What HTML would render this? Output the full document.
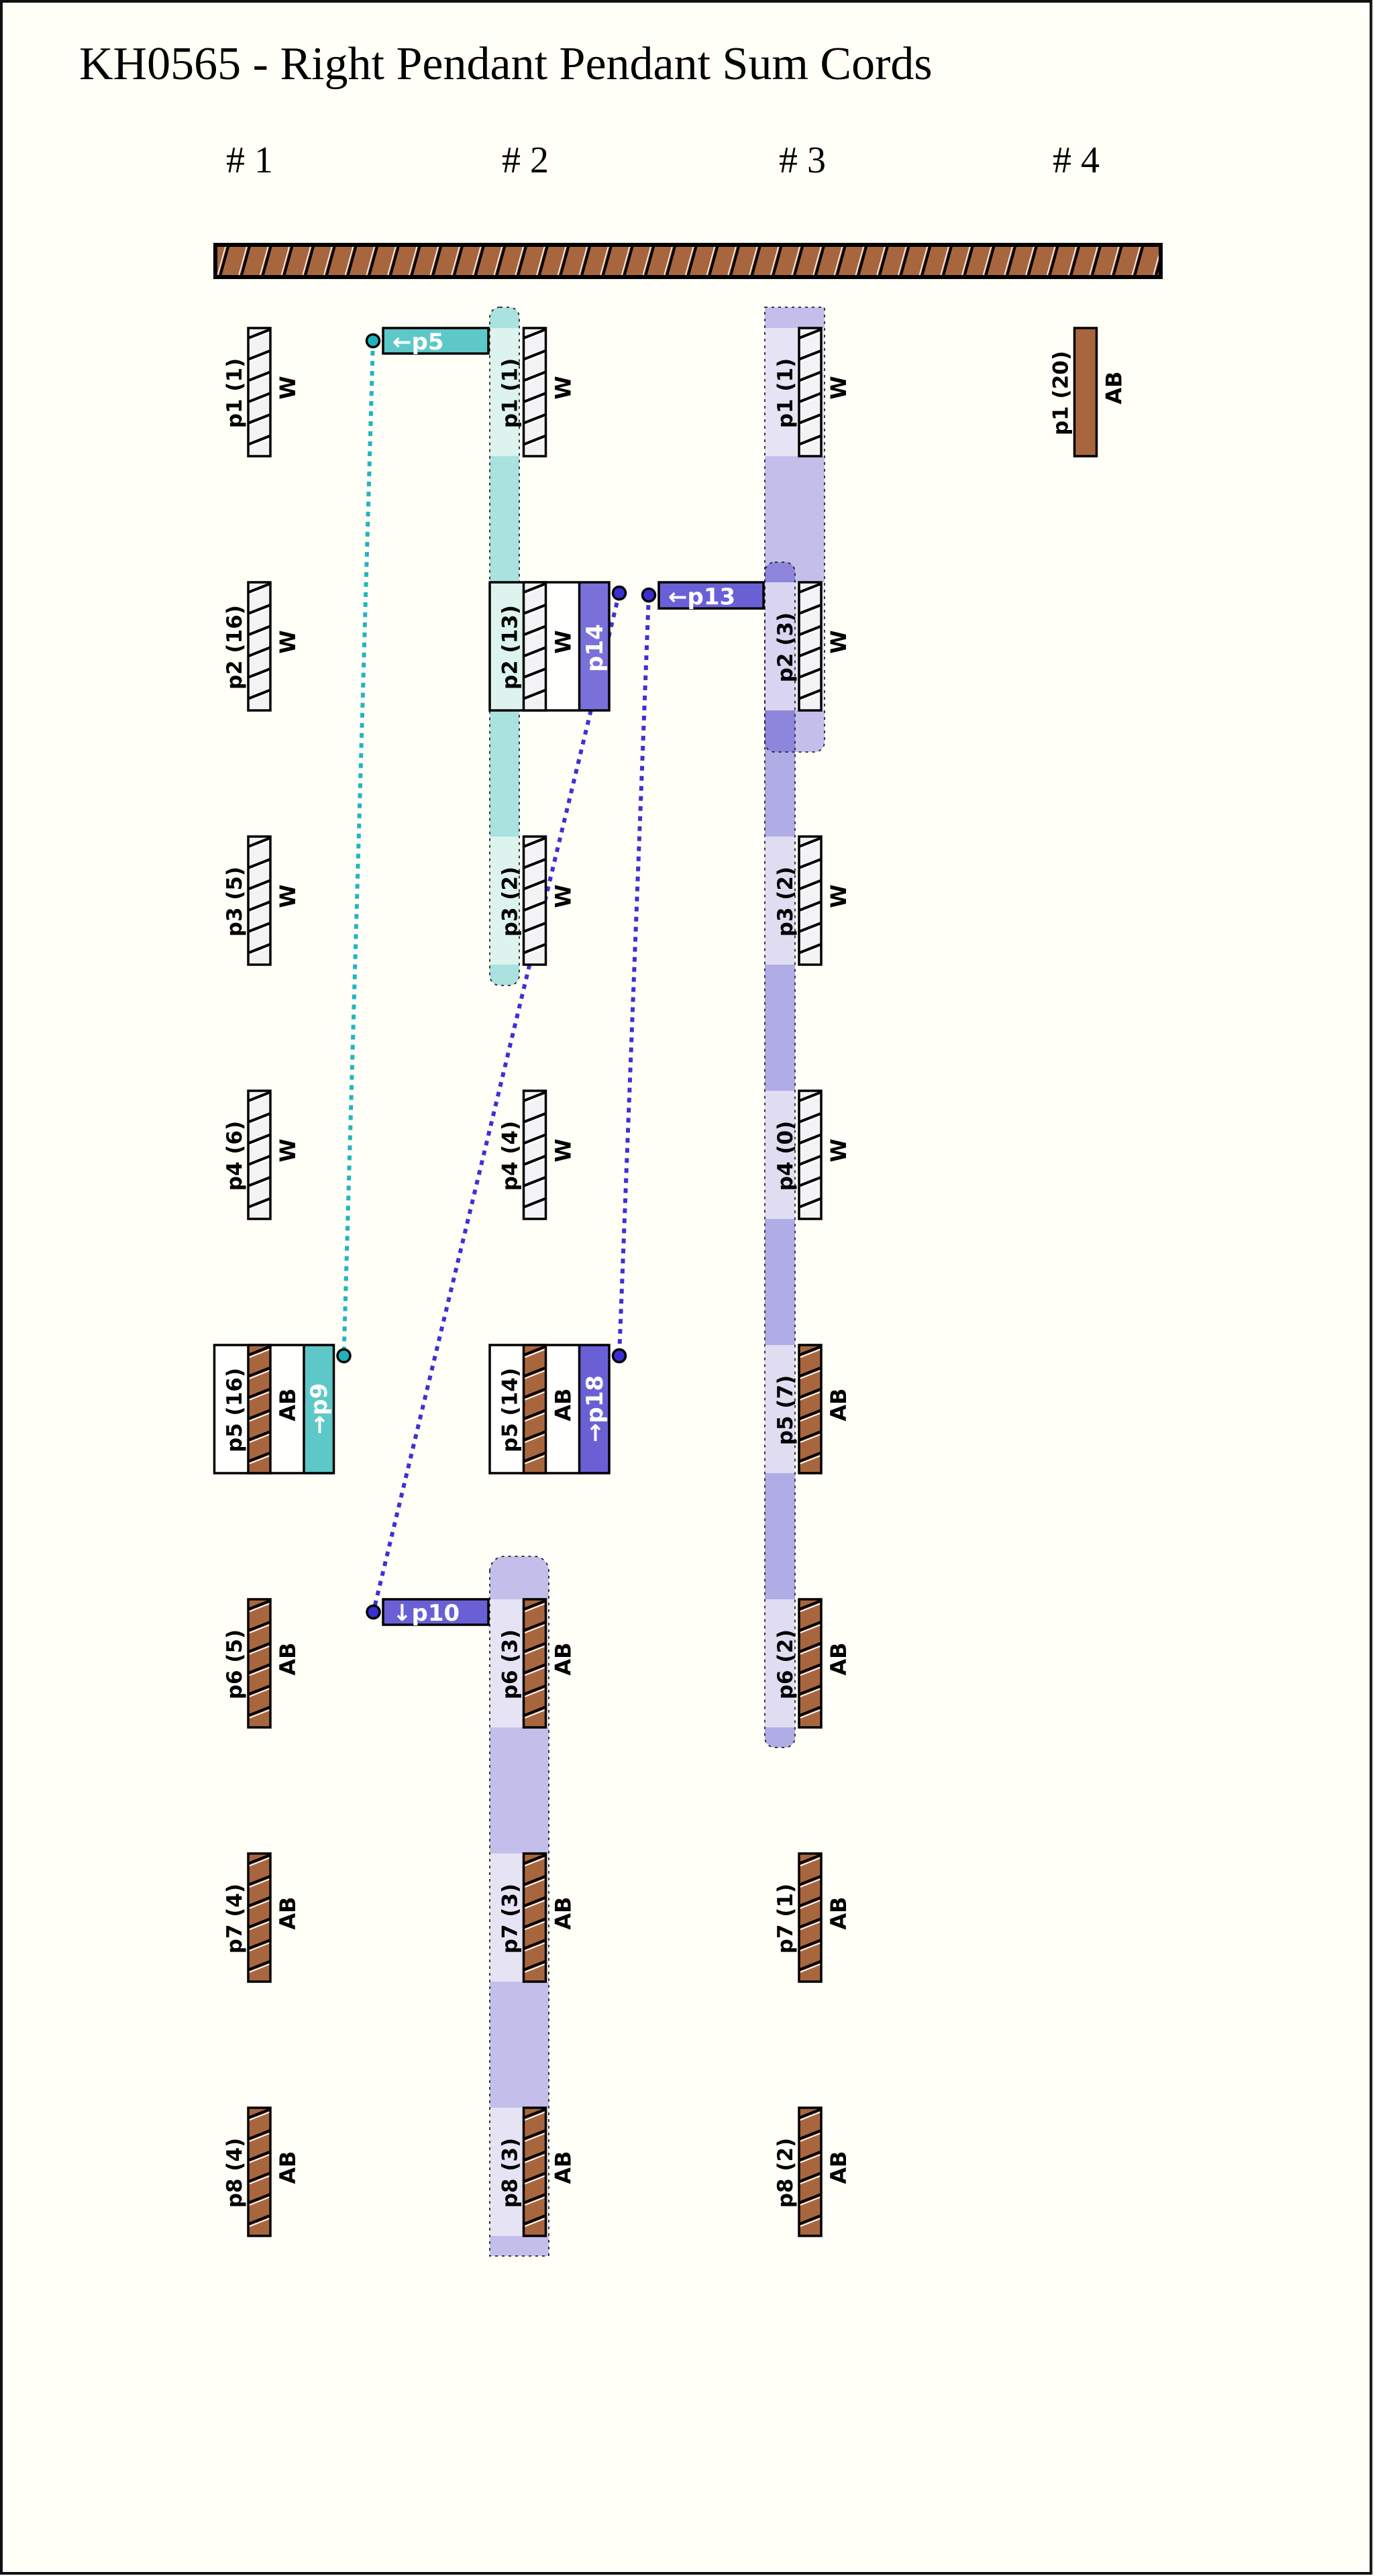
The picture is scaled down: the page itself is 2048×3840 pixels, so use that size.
<!DOCTYPE html>
<html>
<head>
<meta charset="utf-8">
<style>
  html,body{margin:0;padding:0;background:#fffef7;}
  svg{display:block;}
  .t{font-family:"Liberation Serif",serif;font-size:70px;fill:#000;}
  .h{font-family:"Liberation Serif",serif;font-size:56px;fill:#000;}
  .l{font-family:"DejaVu Sans","Liberation Sans",sans-serif;font-weight:bold;font-size:31px;text-anchor:middle;fill:#000;}
  .w{font-family:"DejaVu Sans","Liberation Sans",sans-serif;font-weight:bold;font-size:32px;text-anchor:middle;fill:#000;}
  .g{font-family:"DejaVu Sans","Liberation Sans",sans-serif;font-weight:bold;font-size:34px;fill:#fff;}
  .gm{font-family:"DejaVu Sans","Liberation Sans",sans-serif;font-weight:bold;font-size:34px;fill:#fff;text-anchor:middle;}
</style>
</head>
<body>
<svg width="2048" height="3840" viewBox="0 0 2048 3840" xmlns="http://www.w3.org/2000/svg" xmlns:xlink="http://www.w3.org/1999/xlink">
<defs>
  <pattern id="bh" x="321" y="362" width="31.7" height="54" patternUnits="userSpaceOnUse">
    <line x1="1" y1="57" x2="17.5" y2="-3" stroke="#fff" stroke-width="1.6"/>
    <line x1="5" y1="57" x2="21.5" y2="-3" stroke="#000" stroke-width="4"/>
  </pattern>
  <clipPath id="cc"><rect x="0" y="0" width="33" height="191"/></clipPath>
  <g id="cw">
    <rect x="0" y="0" width="33" height="191" fill="#f3f3f6"/>
    <g clip-path="url(#cc)">
      <path d="M0 15L33 2M0 46.7L33 33.7M0 78.4L33 65.4M0 110.1L33 97.1M0 141.8L33 128.8M0 173.5L33 160.5" stroke="#000" stroke-width="4" fill="none"/>
      <path d="M0 19L33 6M0 50.7L33 37.7M0 82.4L33 69.4M0 114.1L33 101.1M0 145.8L33 132.8M0 177.5L33 164.5" stroke="#fff" stroke-width="1.8" fill="none"/>
    </g>
    <rect x="0" y="0" width="33" height="191" fill="none" stroke="#000" stroke-width="3.5"/>
  </g>
  <g id="cb">
    <rect x="0" y="0" width="33" height="191" fill="#a8663f"/>
    <g clip-path="url(#cc)">
      <path d="M0 15L33 2M0 46.7L33 33.7M0 78.4L33 65.4M0 110.1L33 97.1M0 141.8L33 128.8M0 173.5L33 160.5" stroke="#000" stroke-width="4" fill="none"/>
      <path d="M0 19L33 6M0 50.7L33 37.7M0 82.4L33 69.4M0 114.1L33 101.1M0 145.8L33 132.8M0 177.5L33 164.5" stroke="#fff" stroke-width="1.8" fill="none"/>
    </g>
    <rect x="0" y="0" width="33" height="191" fill="none" stroke="#000" stroke-width="3.5"/>
  </g>
</defs>

<!-- background & frame -->
<rect x="0" y="0" width="2048" height="3840" fill="#fffef7"/>
<rect x="2" y="2" width="2041.5" height="3834" fill="none" stroke="#111" stroke-width="4"/>

<!-- title -->
<text class="t" x="118" y="118">KH0565 - Right Pendant Pendant Sum Cords</text>

<!-- headers -->
<text class="h" x="337" y="257"># 1</text>
<text class="h" x="748" y="257"># 2</text>
<text class="h" x="1161" y="257"># 3</text>
<text class="h" x="1569" y="257"># 4</text>

<!-- main bar -->
<rect x="321" y="365" width="1409" height="48" fill="#a8663f"/>
<rect x="321" y="365" width="1409" height="48" fill="url(#bh)"/>
<rect x="321" y="365" width="1409" height="48" fill="none" stroke="#000" stroke-width="6"/>

<!-- ===== bands ===== -->
<rect x="730" y="458" width="44" height="1011" rx="15" ry="15" fill="#a9e2de"/>
<rect x="730" y="489" width="44" height="191" fill="#dcf3ee"/>
<rect x="730" y="1247" width="44" height="191" fill="#dcf3ee"/>
<rect x="730" y="458" width="44" height="1011" rx="15" ry="15" fill="none" stroke="#222" stroke-width="1.8" stroke-dasharray="4 6"/>

<path d="M730 2342 A22 22 0 0 1 752 2320 H796 A22 22 0 0 1 818 2342 V3363 H730 Z" fill="#c4bfea"/>
<rect x="730" y="2384" width="88" height="191" fill="#e6e4f4"/>
<rect x="730" y="2763" width="88" height="191" fill="#e6e4f4"/>
<rect x="730" y="3142" width="88" height="191" fill="#e6e4f4"/>
<path d="M730 2342 A22 22 0 0 1 752 2320 H796 A22 22 0 0 1 818 2342 V3363 H730 Z" fill="none" stroke="#222" stroke-width="1.8" stroke-dasharray="4 6"/>

<path d="M1140 458 H1229 V1106 A15 15 0 0 1 1214 1121 H1155 A15 15 0 0 1 1140 1106 Z" fill="#c4bfea"/>
<rect x="1140" y="838" width="45" height="1767" rx="15" ry="15" fill="#b0ace6"/>
<path d="M1140 853 A15 15 0 0 1 1155 838 H1170 A15 15 0 0 1 1185 853 V1121 H1155 A15 15 0 0 1 1140 1106 Z" fill="#8e86dc"/>
<rect x="1140" y="489" width="89" height="191" fill="#e6e4f4"/>
<rect x="1140" y="868" width="45" height="191" fill="#d9d5f1"/>
<rect x="1185" y="868" width="44" height="191" fill="#e6e4f4"/>
<rect x="1140" y="1247" width="45" height="191" fill="#e0ddf2"/>
<rect x="1140" y="1626" width="45" height="191" fill="#e0ddf2"/>
<rect x="1140" y="2005" width="45" height="191" fill="#e0ddf2"/>
<rect x="1140" y="2384" width="45" height="191" fill="#e0ddf2"/>
<path d="M1140 458 H1229 V1106 A15 15 0 0 1 1214 1121 H1155 A15 15 0 0 1 1140 1106 Z" fill="none" stroke="#222" stroke-width="1.8" stroke-dasharray="4 6"/>
<rect x="1140" y="838" width="45" height="1767" rx="15" ry="15" fill="none" stroke="#222" stroke-width="1.8" stroke-dasharray="4 6"/>

<!-- ===== dotted connectors ===== -->
<line x1="556" y1="508" x2="512.5" y2="2021" stroke="#22b4c0" stroke-width="6" stroke-dasharray="7 8"/>
<line x1="923" y1="884" x2="556.5" y2="2403" stroke="#3e30d4" stroke-width="6" stroke-dasharray="7 8"/>
<line x1="967" y1="887" x2="923" y2="2021" stroke="#3e30d4" stroke-width="6" stroke-dasharray="7 8"/>

<!-- ===== boxes ===== -->
<rect x="730" y="868" width="178" height="191" fill="#fffffd"/>
<rect x="730" y="868" width="50.5" height="191" fill="#dcf3ee"/>
<rect x="863.5" y="868" width="44.5" height="191" fill="#6a60d6" fill-opacity="0.9"/>
<line x1="863.5" y1="868" x2="863.5" y2="1059" stroke="#000" stroke-width="3.5"/>
<rect x="730" y="868" width="178" height="191" fill="none" stroke="#000" stroke-width="3.5"/>

<rect x="319.5" y="2005" width="178" height="191" fill="#fffffd"/>
<rect x="453" y="2005" width="44.5" height="191" fill="#5ec8c8"/>
<line x1="453" y1="2005" x2="453" y2="2196" stroke="#000" stroke-width="3.5"/>
<rect x="319.5" y="2005" width="178" height="191" fill="none" stroke="#000" stroke-width="3.5"/>

<rect x="730" y="2005" width="178" height="191" fill="#fffffd"/>
<rect x="863.5" y="2005" width="44.5" height="191" fill="#6a60d6"/>
<line x1="863.5" y1="2005" x2="863.5" y2="2196" stroke="#000" stroke-width="3.5"/>
<rect x="730" y="2005" width="178" height="191" fill="none" stroke="#000" stroke-width="3.5"/>

<!-- horizontal tags -->
<rect x="571" y="489" width="157" height="38" fill="#5ec8c8" stroke="#000" stroke-width="3.5"/>
<text class="g" x="585" y="521">←p5</text>
<rect x="982" y="868" width="156" height="39" fill="#6a60d6" stroke="#000" stroke-width="3.5"/>
<text class="g" x="996" y="901">←p13</text>
<rect x="571" y="2384" width="157" height="38" fill="#6a60d6" stroke="#000" stroke-width="3.5"/>
<text class="g" x="585" y="2416">↓p10</text>

<!-- ===== cords ===== -->
<use xlink:href="#cw" href="#cw" x="370" y="489"/>
<use xlink:href="#cw" href="#cw" x="370" y="868"/>
<use xlink:href="#cw" href="#cw" x="370" y="1247"/>
<use xlink:href="#cw" href="#cw" x="370" y="1626"/>
<use xlink:href="#cb" href="#cb" x="370" y="2005"/>
<use xlink:href="#cb" href="#cb" x="370" y="2384"/>
<use xlink:href="#cb" href="#cb" x="370" y="2763"/>
<use xlink:href="#cb" href="#cb" x="370" y="3142"/>

<use xlink:href="#cw" href="#cw" x="780.5" y="489"/>
<use xlink:href="#cw" href="#cw" x="780.5" y="868"/>
<use xlink:href="#cw" href="#cw" x="780.5" y="1247"/>
<use xlink:href="#cw" href="#cw" x="780.5" y="1626"/>
<use xlink:href="#cb" href="#cb" x="780.5" y="2005"/>
<use xlink:href="#cb" href="#cb" x="780.5" y="2384"/>
<use xlink:href="#cb" href="#cb" x="780.5" y="2763"/>
<use xlink:href="#cb" href="#cb" x="780.5" y="3142"/>

<use xlink:href="#cw" href="#cw" x="1191" y="489"/>
<use xlink:href="#cw" href="#cw" x="1191" y="868"/>
<use xlink:href="#cw" href="#cw" x="1191" y="1247"/>
<use xlink:href="#cw" href="#cw" x="1191" y="1626"/>
<use xlink:href="#cb" href="#cb" x="1191" y="2005"/>
<use xlink:href="#cb" href="#cb" x="1191" y="2384"/>
<use xlink:href="#cb" href="#cb" x="1191" y="2763"/>
<use xlink:href="#cb" href="#cb" x="1191" y="3142"/>

<rect x="1601.5" y="489" width="33" height="191" fill="#a8663f" stroke="#000" stroke-width="3.5"/>

<!-- ===== labels col1 ===== -->
<text class="l" transform="translate(360 586) rotate(-90)">p1 (1)</text>
<text class="w" transform="translate(440 578) rotate(-90)">W</text>
<text class="l" transform="translate(360 965) rotate(-90)">p2 (16)</text>
<text class="w" transform="translate(440 957) rotate(-90)">W</text>
<text class="l" transform="translate(360 1344) rotate(-90)">p3 (5)</text>
<text class="w" transform="translate(440 1336) rotate(-90)">W</text>
<text class="l" transform="translate(360 1723) rotate(-90)">p4 (6)</text>
<text class="w" transform="translate(440 1715) rotate(-90)">W</text>
<text class="l" transform="translate(360 2102) rotate(-90)">p5 (16)</text>
<text class="w" transform="translate(440 2094) rotate(-90)">AB</text>
<text class="l" transform="translate(360 2481) rotate(-90)">p6 (5)</text>
<text class="w" transform="translate(440 2473) rotate(-90)">AB</text>
<text class="l" transform="translate(360 2860) rotate(-90)">p7 (4)</text>
<text class="w" transform="translate(440 2852) rotate(-90)">AB</text>
<text class="l" transform="translate(360 3239) rotate(-90)">p8 (4)</text>
<text class="w" transform="translate(440 3231) rotate(-90)">AB</text>

<!-- ===== labels col2 ===== -->
<text class="l" transform="translate(770.5 586) rotate(-90)">p1 (1)</text>
<text class="w" transform="translate(850.5 578) rotate(-90)">W</text>
<text class="l" transform="translate(770.5 965) rotate(-90)">p2 (13)</text>
<text class="w" transform="translate(850.5 957) rotate(-90)">W</text>
<text class="l" transform="translate(770.5 1344) rotate(-90)">p3 (2)</text>
<text class="w" transform="translate(850.5 1336) rotate(-90)">W</text>
<text class="l" transform="translate(770.5 1723) rotate(-90)">p4 (4)</text>
<text class="w" transform="translate(850.5 1715) rotate(-90)">W</text>
<text class="l" transform="translate(770.5 2102) rotate(-90)">p5 (14)</text>
<text class="w" transform="translate(850.5 2094) rotate(-90)">AB</text>
<text class="l" transform="translate(770.5 2481) rotate(-90)">p6 (3)</text>
<text class="w" transform="translate(850.5 2473) rotate(-90)">AB</text>
<text class="l" transform="translate(770.5 2860) rotate(-90)">p7 (3)</text>
<text class="w" transform="translate(850.5 2852) rotate(-90)">AB</text>
<text class="l" transform="translate(770.5 3239) rotate(-90)">p8 (3)</text>
<text class="w" transform="translate(850.5 3231) rotate(-90)">AB</text>

<!-- ===== labels col3 ===== -->
<text class="l" transform="translate(1181 586) rotate(-90)">p1 (1)</text>
<text class="w" transform="translate(1261 578) rotate(-90)">W</text>
<text class="l" transform="translate(1181 965) rotate(-90)">p2 (3)</text>
<text class="w" transform="translate(1261 957) rotate(-90)">W</text>
<text class="l" transform="translate(1181 1344) rotate(-90)">p3 (2)</text>
<text class="w" transform="translate(1261 1336) rotate(-90)">W</text>
<text class="l" transform="translate(1181 1723) rotate(-90)">p4 (0)</text>
<text class="w" transform="translate(1261 1715) rotate(-90)">W</text>
<text class="l" transform="translate(1181 2102) rotate(-90)">p5 (7)</text>
<text class="w" transform="translate(1261 2094) rotate(-90)">AB</text>
<text class="l" transform="translate(1181 2481) rotate(-90)">p6 (2)</text>
<text class="w" transform="translate(1261 2473) rotate(-90)">AB</text>
<text class="l" transform="translate(1181 2860) rotate(-90)">p7 (1)</text>
<text class="w" transform="translate(1261 2852) rotate(-90)">AB</text>
<text class="l" transform="translate(1181 3239) rotate(-90)">p8 (2)</text>
<text class="w" transform="translate(1261 3231) rotate(-90)">AB</text>

<!-- ===== labels col4 ===== -->
<text class="l" transform="translate(1591.5 586) rotate(-90)">p1 (20)</text>
<text class="w" transform="translate(1671.5 578) rotate(-90)">AB</text>

<!-- vertical tag texts -->
<text class="gm" transform="translate(487 2100) rotate(-90)">→p9</text>
<text class="gm" transform="translate(898 966) rotate(-90)">p14</text>
<text class="gm" transform="translate(898 2100) rotate(-90)">→p18</text>

<!-- ===== circles ===== -->
<circle cx="556" cy="508" r="9.5" fill="#20b2bd" stroke="#000" stroke-width="3.5"/>
<circle cx="512.5" cy="2021" r="9.5" fill="#20b2bd" stroke="#000" stroke-width="3.5"/>
<circle cx="923" cy="884" r="9.5" fill="#3a2fd0" stroke="#000" stroke-width="3.5"/>
<circle cx="967" cy="887" r="9.5" fill="#3a2fd0" stroke="#000" stroke-width="3.5"/>
<circle cx="923" cy="2021" r="9.5" fill="#3a2fd0" stroke="#000" stroke-width="3.5"/>
<circle cx="556.5" cy="2403" r="9.5" fill="#3a2fd0" stroke="#000" stroke-width="3.5"/>
</svg>
</body>
</html>
